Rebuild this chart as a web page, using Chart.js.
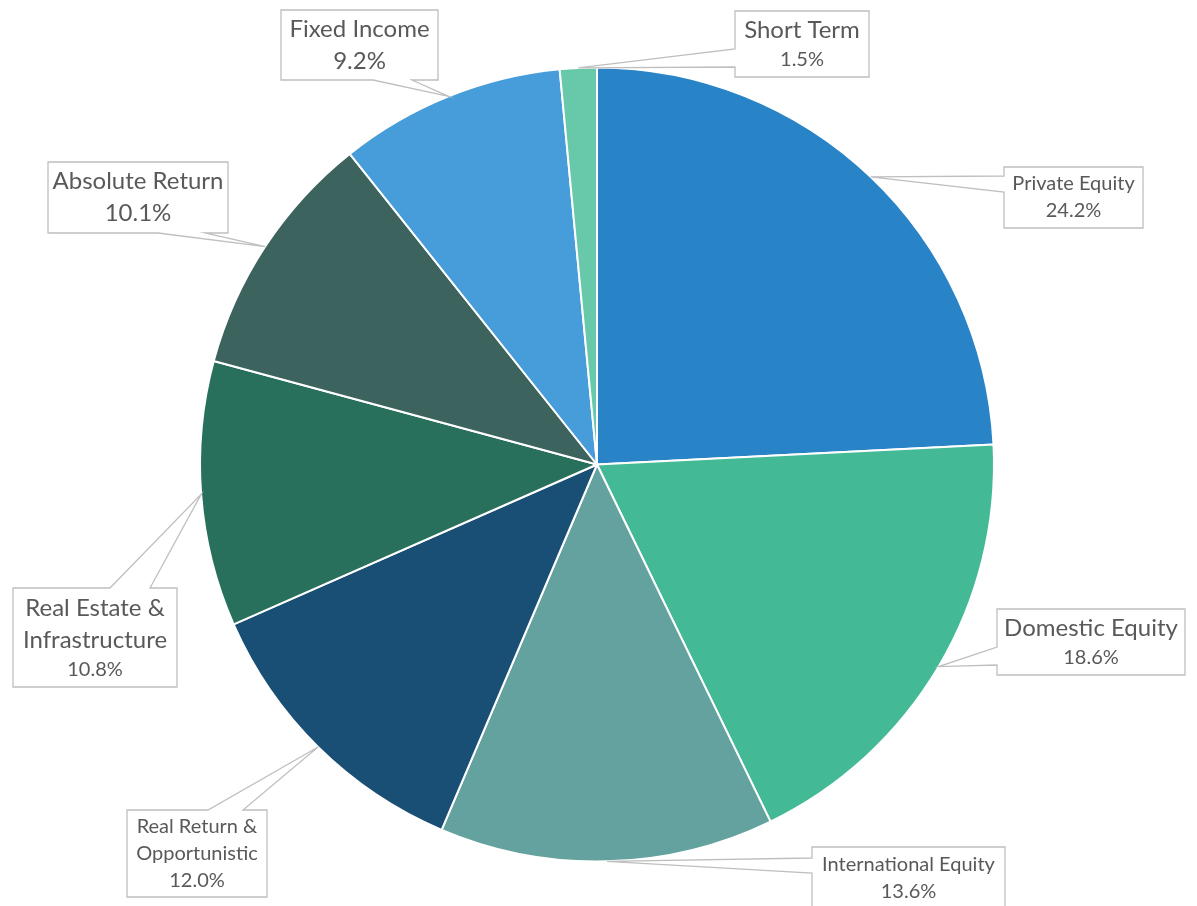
<!DOCTYPE html>
<html lang="en">
<head>
  <meta charset="UTF-8">
  <title>Asset Allocation</title>
  <script src="https://cdn.jsdelivr.net/npm/chart.js"></script>
  <style>
    body { margin: 0; background: #fff; }
    canvas { display: block; }
  </style>
</head>
<body>
  <canvas id="grafico" width="1197" height="906"></canvas>

  <script>
    // allocation by asset class, clockwise from 12 o'clock
    const categorias = ['Private Equity', 'Domestic Equity', 'International Equity', 'Real Return & Opportunistic',
      'Real Estate & Infrastructure', 'Absolute Return', 'Fixed Income', 'Short Term'];
    const valores = [24.2, 18.6, 13.6, 12.0, 10.8, 10.1, 9.2, 1.5];
    const cores = ['#2884C6', '#43B995', '#63A29E', '#1A4F75', '#28705B', '#3C635D', '#479CDA', '#67C9AA'];

    // how each callout label is broken into lines (the last line is the percent)
    const linhasRotulo = [
      ['Private Equity'],
      ['Domestic Equity'],
      ['International Equity'],
      ['Real Return &', 'Opportunistic'],
      ['Real Estate &', 'Infrastructure'],
      ['Absolute Return'],
      ['Fixed Income'],
      ['Short Term']
    ];

    // callout boxes: [x, y, w, h], side of the pointer, pointer base along that side, font sizes per line
    const caixas = [
      { box: [1004, 167, 139, 61], lado: 'left',   base: [176, 192], fontes: [20, 20] },
      { box: [997, 609, 188, 66],  lado: 'left',   base: [647, 665], fontes: [24, 20] },
      { box: [812, 847, 193, 62],  lado: 'left',   base: [858, 873], fontes: [20, 20] },
      { box: [127, 810, 140, 87],  lado: 'top',    base: [208, 243], fontes: [20, 20, 20] },
      { box: [13, 588, 164, 99],   lado: 'top',    base: [110, 150], fontes: [24, 24, 20] },
      { box: [48, 162, 180, 71],   lado: 'bottom', base: [158, 205], fontes: [24, 24] },
      { box: [281, 10, 157, 70],   lado: 'bottom', base: [373, 412], fontes: [24, 24] },
      { box: [735, 11, 134, 66],   lado: 'left',   base: [49, 67],   fontes: [24, 20] }
    ];

    const FONTE = 'Lato, "Open Sans", sans-serif';

    function desenharCaixa(ctx, c, tip) {
      const [x, y, w, h] = c.box;
      const [a, b] = c.base;
      ctx.beginPath();
      if (c.lado === 'left') {
        ctx.moveTo(x, y);
        ctx.lineTo(x + w, y);
        ctx.lineTo(x + w, y + h);
        ctx.lineTo(x, y + h);
        ctx.lineTo(x, b);
        ctx.lineTo(tip.x, tip.y);
        ctx.lineTo(x, a);
      } else if (c.lado === 'top') {
        ctx.moveTo(x, y + h);
        ctx.lineTo(x, y);
        ctx.lineTo(a, y);
        ctx.lineTo(tip.x, tip.y);
        ctx.lineTo(b, y);
        ctx.lineTo(x + w, y);
        ctx.lineTo(x + w, y + h);
      } else {
        ctx.moveTo(x, y);
        ctx.lineTo(x + w, y);
        ctx.lineTo(x + w, y + h);
        ctx.lineTo(b, y + h);
        ctx.lineTo(tip.x, tip.y);
        ctx.lineTo(a, y + h);
        ctx.lineTo(x, y + h);
      }
      ctx.closePath();
      ctx.fillStyle = '#fff';
      ctx.fill();
      ctx.strokeStyle = '#BFBFBF';
      ctx.lineWidth = 1.3;
      ctx.stroke();
    }

    const rotulos = {
      id: 'rotulos',
      afterDatasetsDraw(chart) {
        const ctx = chart.ctx;
        const arcos = chart.getDatasetMeta(0).data;
        ctx.save();
        arcos.forEach((arco, i) => {
          const c = caixas[i];
          const meio = (arco.startAngle + arco.endAngle) / 2;
          const tip = { x: arco.x + Math.cos(meio) * arco.outerRadius, y: arco.y + Math.sin(meio) * arco.outerRadius };
          desenharCaixa(ctx, c, tip);

          const linhas = linhasRotulo[i].concat([valores[i].toFixed(1) + '%']);
          const alturas = c.fontes.map(f => f * 1.2 + 3);
          const total = alturas.reduce((s, v) => s + v, 0);
          let yy = c.box[1] + c.box[3] / 2 - total / 2;
          const cx = c.box[0] + c.box[2] / 2;
          ctx.fillStyle = '#595959';
          ctx.textAlign = 'center';
          ctx.textBaseline = 'middle';
          linhas.forEach((t, j) => {
            ctx.font = c.fontes[j] + 'px ' + FONTE;
            ctx.fillText(t, cx, yy + alturas[j] / 2);
            yy += alturas[j];
          });
        });
        ctx.restore();
      }
    };

    const ctx = document.getElementById('grafico').getContext('2d');
    new Chart(ctx, {
      type: 'pie',
      data: {
        labels: categorias,
        datasets: [{
          data: valores,
          backgroundColor: cores,
          borderColor: '#fff',
          borderWidth: 2
        }]
      },
      options: {
        responsive: false,
        animation: false,
        layout: { padding: { top: 66.5, bottom: 43.5, left: 0, right: 3 } },
        plugins: {
          legend: { display: false },
          tooltip: { enabled: false }
        }
      },
      plugins: [rotulos]
    });
  </script>
</body>
</html>
